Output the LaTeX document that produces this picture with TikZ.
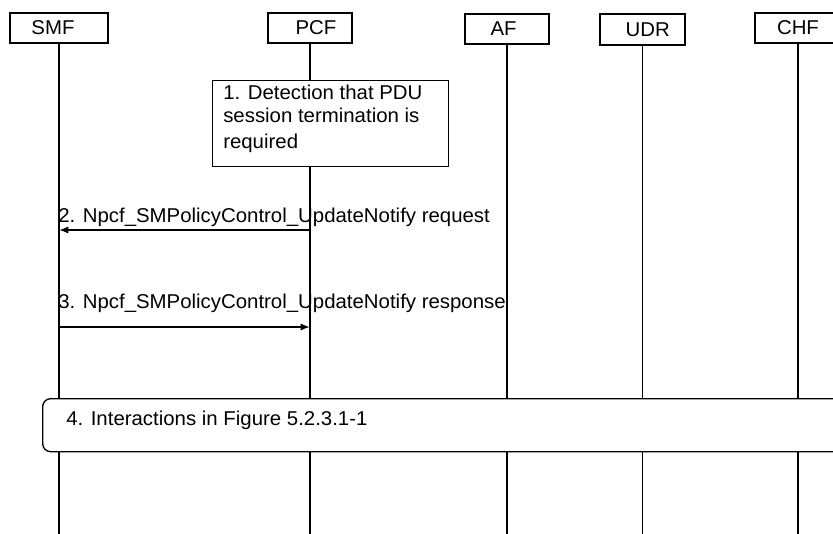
\documentclass[tikz,border=0pt]{standalone}
\usepackage{fontspec}
\setmainfont[FakeStretch=1.02]{Liberation Sans}
\usetikzlibrary{arrows.meta}
\begin{document}
\begin{tikzpicture}[x=0.75pt,y=-0.75pt,
  every node/.style={font=\fontsize{15pt}{17pt}\selectfont},
  entity/.style={draw, line width=1pt, fill=white, minimum height=22.5pt, inner sep=0pt},
  life/.style={line width=1pt},
  stepbox/.style={draw, line width=1pt, fill=white, inner sep=0pt},
  msg/.style={line width=1.5pt, -{Latex[length=7pt,width=5.5pt]}},
  lbl/.style={anchor=base west, inner sep=0pt}
]
\useasboundingbox (0,0) rectangle (833,533);
\coordinate (bottom) at (0,545);
% entities
\node[entity, minimum width=73.5pt] (smf) at (59,28) {\hspace*{-9pt}SMF};
\node[entity, minimum width=63pt] (pcf) at (310,28) {\hspace*{9pt}PCF};
\node[entity, minimum width=63pt] (af) at (507,29) {\hspace*{-5pt}AF};
\node[entity, minimum width=63.75pt, minimum height=23.25pt] (udr) at (642.5,29.5) {\hspace*{8pt}UDR};
\node[entity, minimum width=64.5pt] (chf) at (798,28) {CHF};
% lifelines
\draw[life] (smf.south) -- (smf.south |- bottom);
\draw[life] (pcf.south) -- (pcf.south |- bottom);
\draw[life] (af.south) -- (af.south |- bottom);
\draw[life] (udr.south) -- (udr.south |- bottom);
\draw[life] (chf.south) -- (chf.south |- bottom);
% step 1
\node[stepbox, anchor=north west, minimum width=177pt, minimum height=64.5pt] (s1) at (212,80) {};
\node[lbl] (s1a) at (223,99) {1. Detection that PDU};
\node[lbl] (s1b) at (223,122) {session termination is};
\node[lbl] (s1c) at (223,148) {required};
% messages
\coordinate (y2) at (0,230);
\coordinate (y3) at (0,327);
\draw[msg] (pcf.south |- y2) -- (smf.south |- y2);
\node[lbl] (l2) at (58,222) {2. Npcf\_SMPolicyControl\_UpdateNotify request};
\draw[msg] (smf.south |- y3) -- (pcf.south |- y3);
\node[lbl] (l3) at (58,308) {3. Npcf\_SMPolicyControl\_UpdateNotify response};
% step 4
\node[stepbox, rounded corners=6pt, anchor=north west, minimum width=610pt, minimum height=39.75pt] (s4) at (42,398) {};
\node[lbl] (l4) at (66,425) {4. Interactions in Figure 5.2.3.1-1};
\end{tikzpicture}
\end{document}
